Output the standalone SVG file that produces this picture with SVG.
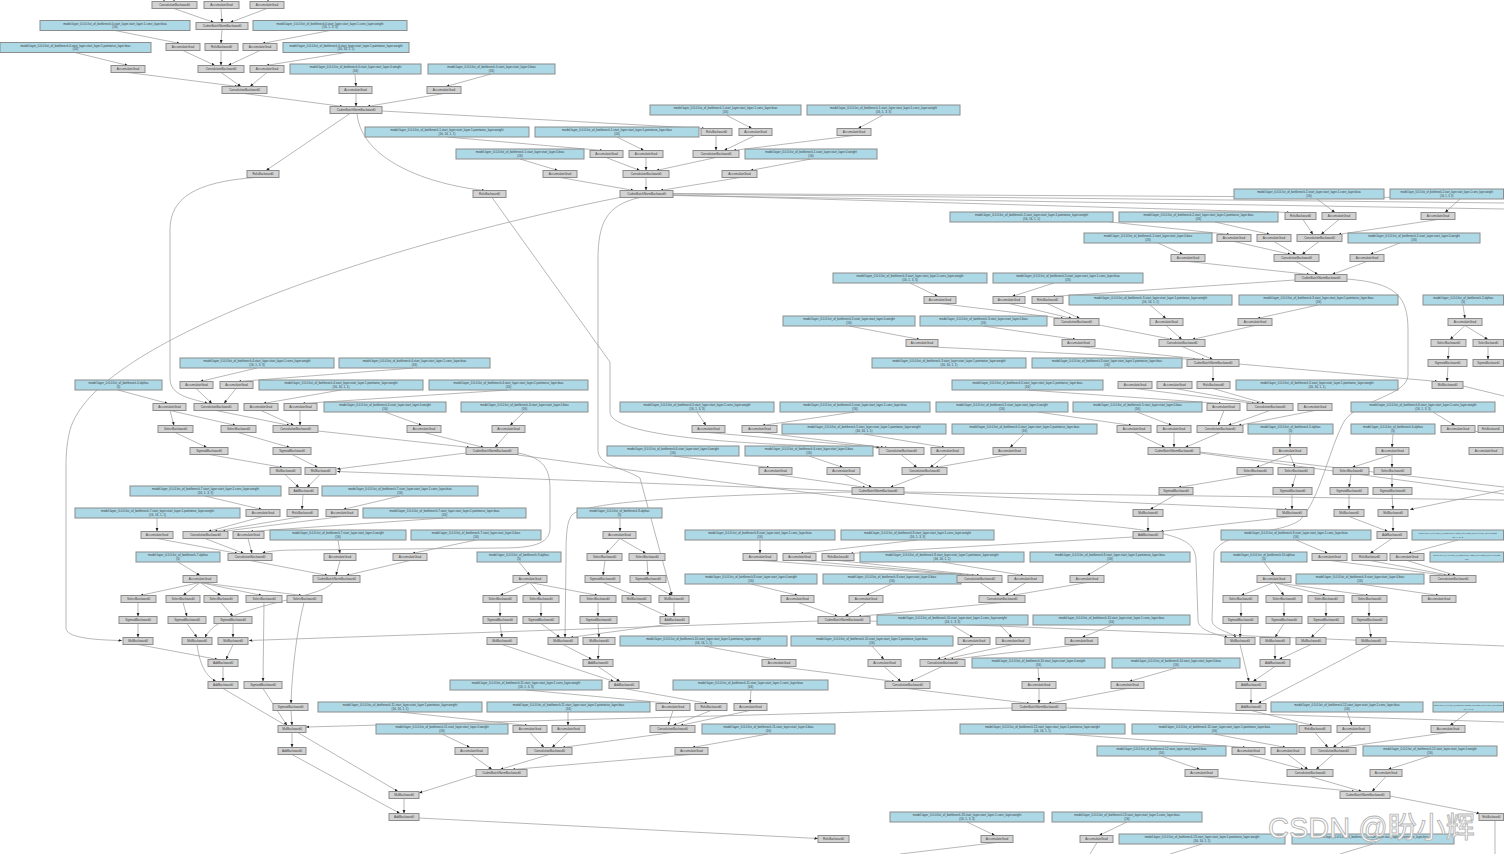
<svg xmlns="http://www.w3.org/2000/svg" width="1504" height="854" viewBox="0 0 1504 854">
<style>
.g{fill:#d3d3d3;stroke:#8c8c8c;stroke-width:1}
.b{fill:#add8e6;stroke:#8c8c8c;stroke-width:1}
text{font-family:"Liberation Sans",Arial,sans-serif;font-size:3px;fill:#3a3a3a;text-anchor:middle}
.s1{font-size:2.6px}.s2{font-size:2.2px}.s3{font-size:1.9px}
.e path{fill:none;stroke:#9a9a9a;stroke-width:0.7}
.wm{font-family:"Liberation Sans","Noto Sans CJK SC",sans-serif;font-size:29px;fill:#ffffff;stroke:#b5b5b5;stroke-width:0.9;text-anchor:start}
</style>
<defs>
<marker id="a" viewBox="0 0 10 10" refX="10" refY="5" markerWidth="3.5" markerHeight="3.5" markerUnits="userSpaceOnUse" orient="auto"><path d="M0,1 L10,5 L0,9z" fill="#222"/></marker>
</defs>
<rect width="1504" height="854" fill="#ffffff"/>
<g id="connectors">
<g class="e" marker-end="url(#a)">
<path d="M164,0 L164,1.5"/><path d="M174,0 L174,1.5"/><path d="M222,0 L222,1.5"/><path d="M268,0 L268,1.5"/>
<path d="M174,8.5 L214,22.5"/><path d="M221,8.5 L222,22.5"/><path d="M267,8.5 L230,22.5"/>
<path d="M115,30.5 L180,43.5"/><path d="M222,29.5 L221,43.5"/><path d="M330,30.5 L262,43.5"/>
<path d="M75,52.5 L128,65.5"/><path d="M183,50.5 L215,65.5"/><path d="M221,50.5 L221,65.5"/><path d="M260,50.5 L228,65.5"/><path d="M346,52.5 L266,65.5"/>
<path d="M128,72.5 L238,86.5"/><path d="M221,72.5 L241,86.5"/><path d="M267,72.5 L250,86.5"/><path d="M355,74 L356,86.5"/><path d="M491,74 L446,86.5"/>
<path d="M244,93.5 L343,106.5"/><path d="M356,93.5 L356,106.5"/><path d="M444,93.5 L367,106.5"/>
<path d="M726,115 L752,128.5"/><path d="M883,115 L858,128.5"/>
<path d="M716,135.5 L716,150.5"/><path d="M755,135.5 L724,150.5"/><path d="M854,135.5 L733,150.5"/>
<path d="M617,137 L644,150.5"/><path d="M447,137 L603,150.5"/>
<path d="M606,157.5 L640,170.5"/><path d="M646,157.5 L646,170.5"/><path d="M716,157.5 L656,170.5"/><path d="M520,159 L558,170.5"/><path d="M811,159 L750,170.5"/>
<path d="M560,177.5 L634,190.5"/><path d="M646,177.5 L646,190.5"/><path d="M740,177.5 L660,190.5"/>
<path d="M382,111 L705,128.5"/><path d="M350,113.5 L266,170.5"/><path d="M357,113.5 C362,165 440,186 485,190.5"/>
<path d="M255,177.5 C195,182 170,198 170,230 L170,378 C170,396 190,398 208,403.5"/>
<path d="M492,197.5 L610,362 L610,412 C610,440 780,446 888,447.5"/>
<path d="M640,197.5 C605,205 598,225 598,260 L598,450 C598,466 625,468 640,478 L672,595.5"/>
<path d="M622,197 C380,245 95,340 70,430 C66,445 66,460 66,470 L66,628 C66,637 90,640 122,640.5"/>
<path d="M673,195 L1290,212.5"/>
<path d="M1317,199 L1335,212.5"/><path d="M1460,199 L1445,212.5"/>
<path d="M1303,219.5 L1313,234.5"/><path d="M1339,219.5 L1321,234.5"/><path d="M1438,219.5 L1338,234.5"/>
<path d="M1110,222 L1230,234.5"/><path d="M1215,222 L1270,234.5"/>
<path d="M1234,241.5 L1291,254.5"/><path d="M1274,241.5 L1296,254.5"/><path d="M1319,241.5 L1302,254.5"/>
<path d="M1158,243 L1183,254.5"/><path d="M1400,243 L1370,254.5"/>
<path d="M1188,261.5 L1310,274.5"/><path d="M1296,261.5 L1318,274.5"/><path d="M1367,261.5 L1332,274.5"/>
<path d="M1295,280 L1052,296.5"/>
<path d="M1347,279 C1395,283 1408,295 1408,330 L1408,375 C1408,395 1360,400 1345,420 C1330,445 1320,500 1300,520 C1280,535 1225,530 1214,552 L1212,620 C1212,630 1232,632 1236,637.5"/>
<path d="M910,283 L938,296.5"/><path d="M1054,283 L1012,296.5"/>
<path d="M940,303.5 L1064,318.5"/><path d="M1009,303.5 L1072,318.5"/><path d="M1047,303.5 L1080,318.5"/>
<path d="M1150,305 L1166,318.5"/><path d="M1318,305 L1257,318.5"/>
<path d="M1099,325 L1173,339.5"/><path d="M1166,325.5 L1182,339.5"/><path d="M1255,325.5 L1192,339.5"/>
<path d="M849,326 L920,339.5"/><path d="M983,326 L1076,339.5"/>
<path d="M922,346.5 L1196,359.5"/><path d="M1078,346.5 L1205,359.5"/><path d="M1182,346.5 L1213,359.5"/>
<path d="M1213,366.5 L1213,381.5"/><path d="M1239,364 L1438,381.5"/>
<path d="M1463,305 L1465,318.5"/><path d="M1465,325.5 L1450,339.5"/><path d="M1465,325.5 L1488,339.5"/>
<path d="M1449,346.5 L1448,359.5"/><path d="M1488,346.5 L1488,359.5"/><path d="M1448,366.5 L1447,381.5"/>
<path d="M257,368 L200,381.5"/><path d="M414,368 L238,381.5"/>
<path d="M118,390 L168,403.5"/><path d="M196,388.5 L212,403.5"/><path d="M236,388.5 L224,403.5"/>
<path d="M341,390 L263,403.5"/><path d="M508,390 L302,403.5"/>
<path d="M170,410.5 L174,425.5"/><path d="M170,410.5 L236,425.5"/><path d="M216,410.5 L290,425.5"/><path d="M261,410.5 L294,425.5"/><path d="M300,410.5 L300,425.5"/>
<path d="M385,412 L422,425.5"/><path d="M524,412 L510,425.5"/>
<path d="M175,432.5 L207,447.5"/><path d="M238,432.5 L290,447.5"/><path d="M318,431 L470,447.5"/><path d="M424,432.5 L484,447.5"/><path d="M508,432.5 L495,447.5"/>
<path d="M209,454.5 L283,467.5"/><path d="M292,454.5 L318,467.5"/>
<path d="M466,453 L337,469"/>
<path d="M518,453 C545,458 550,470 550,490 L550,528 C550,545 530,548 500,548 L300,550 C280,550 268,551 262,553.5"/>
<path d="M518,455 C700,480 900,505 1100,525 C1180,533 1195,540 1196,560 L1198,620 C1198,630 1215,634 1228,637.5"/>
<path d="M285,474.5 L299,487.5"/><path d="M320,474.5 L307,487.5"/>
<path d="M205,496 L262,509.5"/><path d="M303,494.5 L302,509.5"/><path d="M400,496 L343,509.5"/>
<path d="M157,518 L157,531.5"/><path d="M263,516.5 L208,531.5"/><path d="M302,516.5 L214,531.5"/><path d="M342,516.5 L222,531.5"/><path d="M444,518 L250,531.5"/>
<path d="M205,538.5 L244,553.5"/><path d="M157,538.5 L238,553.5"/><path d="M248,538.5 L252,553.5"/><path d="M338,540 L340,553.5"/><path d="M476,540 L412,553.5"/>
<path d="M250,560.5 L328,575.5"/><path d="M340,560.5 L336,575.5"/><path d="M410,560.5 L346,575.5"/><path d="M178,562 L200,575.5"/>
<path d="M200,582.5 L140,595.5"/><path d="M200,582.5 L183,595.5"/><path d="M200,582.5 L221,595.5"/><path d="M200,582.5 L262,595.5"/><path d="M200,582.5 L302,595.5"/>
<path d="M138,602.5 L138,616.5"/><path d="M183,602.5 L187,616.5"/><path d="M221,602.5 L233,616.5"/>
<path d="M138,623.5 L138,637.5"/><path d="M187,623.5 L197,637.5"/><path d="M233,623.5 L233,637.5"/>
<path d="M333,582.5 C320,600 220,605 205,637.5"/>
<path d="M138,644.5 L218,659.5"/><path d="M233,644.5 L226,659.5"/><path d="M197,644.5 C200,665 205,675 216,681.5"/><path d="M223,666.5 L223,681.5"/>
<path d="M264,602.5 L263,681.5"/><path d="M304,602.5 C297,630 292,670 291,703.5"/>
<path d="M818,621 L249,640.5"/>
<path d="M263,688.5 L287,725.5"/><path d="M291,710.5 L292,725.5"/><path d="M292,732.5 L292,747.5"/>
<path d="M223,688.5 L398,791.5"/><path d="M292,754.5 L400,813.5"/><path d="M404,798.5 L404,813.5"/>
<path d="M476,775 L419,793"/><path d="M419,818 L818,838.5"/><path d="M1012,708 L306,727"/>
<path d="M400,712 L528,725.5"/><path d="M568,712 L568,725.5"/>
<path d="M530,732.5 L544,747.5"/><path d="M568,732.5 L552,747.5"/><path d="M672,732.5 L562,747.5"/>
<path d="M442,734 L470,747.5"/><path d="M768,734 L692,747.5"/>
<path d="M549,754.5 L500,769.5"/><path d="M471,754.5 L492,769.5"/><path d="M691,754.5 L512,769.5"/>
<path d="M673,710.5 L668,725.5"/><path d="M711,710.5 L673,725.5"/><path d="M750,710.5 L680,725.5"/>
<path d="M526,690 L672,703.5"/><path d="M751,690 L750,703.5"/><path d="M624,688.5 L708,703.5"/>
<path d="M620,518 L620,531.5"/><path d="M620,538.5 L606,553.5"/><path d="M620,538.5 L646,553.5"/>
<path d="M605,560.5 L603,575.5"/><path d="M647,560.5 L648,575.5"/>
<path d="M603,582.5 L635,595.5"/><path d="M648,582.5 L672,595.5"/>
<path d="M637,602.5 L668,616.5"/><path d="M674,602.5 L674,616.5"/>
<path d="M519,562 L530,575.5"/><path d="M530,582.5 L500,595.5"/><path d="M530,582.5 L541,595.5"/><path d="M530,582.5 L598,595.5"/>
<path d="M500,602.5 L500,616.5"/><path d="M541,602.5 L541,616.5"/><path d="M598,602.5 L598,616.5"/>
<path d="M500,623.5 L502,637.5"/><path d="M541,623.5 L560,637.5"/><path d="M598,623.5 L599,637.5"/><path d="M674,623.5 L570,637.5"/>
<path d="M563,644.5 L592,659.5"/><path d="M599,644.5 L598,659.5"/><path d="M598,666.5 L620,681.5"/><path d="M502,644.5 L614,681.5"/>
<path d="M852,492 C720,495 585,500 572,515 C566,522 566,540 566,560 L565,637.5"/>
<path d="M697,412 L706,425.5"/><path d="M855,412 L762,425.5"/>
<path d="M864,434 L945,447.5"/><path d="M1024,434 L1010,447.5"/>
<path d="M708,432.5 L880,447.5"/><path d="M760,432.5 L884,447.5"/>
<path d="M947,454.5 L930,467.5"/><path d="M901,454.5 L917,467.5"/><path d="M1010,454.5 L935,467.5"/>
<path d="M673,456 L770,467.5"/><path d="M809,456 L843,467.5"/>
<path d="M776,474.5 L866,487.5"/><path d="M844,474.5 L872,487.5"/><path d="M924,474.5 L890,487.5"/>
<path d="M852,491 L337,471.5"/><path d="M904,493 L1288,509.5"/>
<path d="M760,540 L760,553.5"/><path d="M917,540 L800,553.5"/>
<path d="M760,560.5 L970,575.5"/><path d="M800,560.5 L975,575.5"/><path d="M838,560.5 L980,575.5"/>
<path d="M942,562 L1024,575.5"/><path d="M1110,562 L1087,575.5"/>
<path d="M751,584 L798,595.5"/><path d="M892,584 L866,595.5"/>
<path d="M980,582.5 L1000,595.5"/><path d="M1026,582.5 L1005,595.5"/><path d="M1087,582.5 L1012,595.5"/>
<path d="M798,602.5 L838,616.5"/><path d="M866,602.5 L845,616.5"/><path d="M1002,602.5 L858,616.5"/>
<path d="M1133,537 L850,553.5"/>
<path d="M1135,388.5 L1255,403.5"/><path d="M1175,388.5 L1260,403.5"/><path d="M1213,388.5 L1265,403.5"/>
<path d="M1027,390 L1222,403.5"/><path d="M1038,412 L1132,425.5"/><path d="M1137,412 L1172,425.5"/>
<path d="M1270,410.5 L1228,425.5"/><path d="M1224,410.5 L1218,425.5"/><path d="M1315,410.5 L1238,425.5"/>
<path d="M1134,432.5 L1165,447.5"/><path d="M1174,432.5 L1174,447.5"/><path d="M1220,432.5 L1185,447.5"/>
<path d="M1290,434 L1290,447.5"/><path d="M1393,434 L1392,447.5"/><path d="M1433,412 L1455,425.5"/>
<path d="M1290,454.5 L1256,467.5"/><path d="M1290,454.5 L1295,467.5"/><path d="M1392,454.5 L1352,467.5"/><path d="M1392,454.5 L1392,467.5"/>
<path d="M1255,474.5 L1178,487.5"/><path d="M1296,474.5 L1292,487.5"/><path d="M1351,474.5 L1349,487.5"/><path d="M1392,474.5 L1392,487.5"/>
<path d="M1176,494.5 L1150,509.5"/><path d="M1292,494.5 L1292,509.5"/><path d="M1349,494.5 L1349,509.5"/><path d="M1392,494.5 L1393,509.5"/>
<path d="M1148,516.5 L1148,531.5"/><path d="M1292,516.5 L1160,531.5"/><path d="M1349,516.5 L1388,531.5"/><path d="M1393,516.5 L1393,531.5"/>
<path d="M1504,490 L1410,509.5"/>
<path d="M1392,538.5 L1370,553.5"/><path d="M1296,540 L1328,553.5"/><path d="M1458,540 L1408,553.5"/>
<path d="M1330,560.5 L1447,575.5"/><path d="M1370,560.5 L1451,575.5"/><path d="M1407,560.5 L1456,575.5"/>
<path d="M1360,584 L1439,595.5"/><path d="M1264,562 L1274,575.5"/>
<path d="M1274,582.5 L1241,595.5"/><path d="M1274,582.5 L1284,595.5"/><path d="M1274,582.5 L1326,595.5"/><path d="M1274,582.5 L1369,595.5"/>
<path d="M1241,602.5 L1241,616.5"/><path d="M1284,602.5 L1284,616.5"/><path d="M1326,602.5 L1326,616.5"/><path d="M1369,602.5 L1369,616.5"/>
<path d="M1241,623.5 L1240,637.5"/><path d="M1284,623.5 L1275,637.5"/><path d="M1326,623.5 L1311,637.5"/><path d="M1369,623.5 L1371,637.5"/>
<path d="M1240,644.5 L1249,681.5"/><path d="M1275,644.5 L1275,659.5"/><path d="M1311,644.5 L1279,659.5"/><path d="M1275,666.5 L1253,681.5"/>
<path d="M1251,688.5 L1251,703.5"/><path d="M1371,644.5 L1258,703.5"/>
<path d="M1251,710.5 L1313,725.5"/><path d="M1347,712 L1352,725.5"/><path d="M1468,712 L1450,725.5"/>
<path d="M1315,732.5 L1328,747.5"/><path d="M1353,732.5 L1333,747.5"/><path d="M1448,732.5 L1340,747.5"/>
<path d="M1065,734 L1246,747.5"/><path d="M1214,734 L1286,747.5"/>
<path d="M1161,756 L1200,769.5"/><path d="M1430,756 L1388,769.5"/>
<path d="M1248,754.5 L1304,769.5"/><path d="M1288,754.5 L1308,769.5"/><path d="M1333,754.5 L1316,769.5"/>
<path d="M1201,776.5 L1355,791.5"/><path d="M1310,776.5 L1362,791.5"/><path d="M1386,776.5 L1372,791.5"/>
<path d="M1390,796 L1480,813.5"/>
<path d="M779,666.5 L895,681.5"/><path d="M884,666.5 L901,681.5"/><path d="M942,666.5 L910,681.5"/>
<path d="M974,644.5 L937,659.5"/><path d="M1013,644.5 L943,659.5"/><path d="M1081,644.5 L950,659.5"/>
<path d="M704,646 L777,659.5"/><path d="M872,646 L884,659.5"/>
<path d="M952,625 L973,637.5"/><path d="M1000,625 L1012,637.5"/><path d="M1112,625 L1082,637.5"/>
<path d="M1038,668 L1039,681.5"/><path d="M1176,668 L1129,681.5"/>
<path d="M907,688.5 L1030,703.5"/><path d="M1039,688.5 L1039,703.5"/><path d="M1127,688.5 L1048,703.5"/>
<path d="M967,822 L995,835.5"/><path d="M1127,822 L1099,835.5"/>
</g>
<g class="e">
<path d="M673,194 L1504,203"/><path d="M673,195.5 L1504,209"/><path d="M673,193.5 L1504,198"/>
<path d="M904,492 L1504,500"/>
<path d="M1200,452 L1504,487"/><path d="M1200,453 L1504,494"/>
<path d="M870,621 L1504,646"/><path d="M1066,708 L1504,722"/>
<path d="M1463,386 L1504,396"/><path d="M1475,431 L1478,432"/>
<path d="M1495,820.5 L1495,854"/>
<path d="M997,842.5 L900,854"/><path d="M1097,842.5 L1090,854"/><path d="M1202,844 L1170,854"/><path d="M1373,844 L1340,854"/>
</g>
</g>
<g id="n1"><rect class="g" x="152" y="1.5" width="45" height="7"/><text x="174.5" y="6.2">ConvolutionBackward0</text></g>
<g id="n2"><rect class="g" x="204" y="1.5" width="35" height="7"/><text x="221.5" y="6.2">AccumulateGrad</text></g>
<g id="n3"><rect class="g" x="250" y="1.5" width="34" height="7"/><text x="267" y="6.2">AccumulateGrad</text></g>
<g id="p1"><rect class="b" x="40" y="20.5" width="150" height="10"/><text x="115" y="24.6">model.layer_0.0.0.list_of_bottleneck.0.start_layer.start_layer.1.conv_layer.bias<tspan x="115" dy="3.6">(16)</tspan></text></g>
<g id="n4"><rect class="g" x="196" y="22.5" width="52" height="7"/><text x="222" y="27.2">CudnnBatchNormBackward0</text></g>
<g id="p2"><rect class="b" x="253" y="20.5" width="154" height="10"/><text x="330" y="24.6">model.layer_0.0.0.list_of_bottleneck.0.start_layer.start_layer.1.conv_layer.weight<tspan x="330" dy="3.6">(16, 1, 3, 3)</tspan></text></g>
<g id="p3"><rect class="b" x="0" y="42.5" width="151" height="10"/><text x="75.5" y="46.6">model.layer_0.0.0.list_of_bottleneck.0.start_layer.start_layer.1.pointwise_layer.bias<tspan x="75.5" dy="3.6">(16)</tspan></text></g>
<g id="n5"><rect class="g" x="166" y="43.5" width="34" height="7"/><text x="183" y="48.2">AccumulateGrad</text></g>
<g id="n6"><rect class="g" x="205" y="43.5" width="33" height="7"/><text x="221.5" y="48.2">ReluBackward0</text></g>
<g id="n7"><rect class="g" x="243" y="43.5" width="34" height="7"/><text x="260" y="48.2">AccumulateGrad</text></g>
<g id="p4"><rect class="b" x="283" y="42.5" width="126" height="10"/><text x="346" y="46.6">model.layer_0.0.0.list_of_bottleneck.0.start_layer.start_layer.1.pointwise_layer.weight<tspan x="346" dy="3.6">(16, 16, 1, 1)</tspan></text></g>
<g id="n8"><rect class="g" x="111" y="65.5" width="34" height="7"/><text x="128" y="70.2">AccumulateGrad</text></g>
<g id="n9"><rect class="g" x="198" y="65.5" width="46" height="7"/><text x="221" y="70.2">ConvolutionBackward0</text></g>
<g id="n10"><rect class="g" x="250" y="65.5" width="34" height="7"/><text x="267" y="70.2">AccumulateGrad</text></g>
<g id="p5"><rect class="b" x="290" y="64" width="131" height="10"/><text x="355.5" y="68.1">model.layer_0.0.0.list_of_bottleneck.0.start_layer.start_layer.0.weight<tspan x="355.5" dy="3.6">(16)</tspan></text></g>
<g id="p6"><rect class="b" x="428" y="64" width="127" height="10"/><text x="491.5" y="68.1">model.layer_0.0.0.list_of_bottleneck.0.start_layer.start_layer.0.bias<tspan x="491.5" dy="3.6">(16)</tspan></text></g>
<g id="n11"><rect class="g" x="222" y="86.5" width="45" height="7"/><text x="244.5" y="91.2">ConvolutionBackward0</text></g>
<g id="n12"><rect class="g" x="339" y="86.5" width="33" height="7"/><text x="355.5" y="91.2">AccumulateGrad</text></g>
<g id="n13"><rect class="g" x="427" y="86.5" width="34" height="7"/><text x="444" y="91.2">AccumulateGrad</text></g>
<g id="n14"><rect class="g" x="330" y="106.5" width="52" height="7"/><text x="356" y="111.2">CudnnBatchNormBackward0</text></g>
<g id="p7"><rect class="b" x="650" y="105" width="151" height="10"/><text x="725.5" y="109.1">model.layer_0.0.0.list_of_bottleneck.1.start_layer.start_layer.1.conv_layer.bias<tspan x="725.5" dy="3.6">(16)</tspan></text></g>
<g id="p8"><rect class="b" x="807" y="105" width="153" height="10"/><text x="883.5" y="109.1">model.layer_0.0.0.list_of_bottleneck.1.start_layer.start_layer.1.conv_layer.weight<tspan x="883.5" dy="3.6">(16, 1, 3, 3)</tspan></text></g>
<g id="p9"><rect class="b" x="365" y="127" width="164" height="10"/><text x="447" y="131.1">model.layer_0.0.0.list_of_bottleneck.1.start_layer.start_layer.1.pointwise_layer.weight<tspan x="447" dy="3.6">(16, 16, 1, 1)</tspan></text></g>
<g id="p10"><rect class="b" x="535" y="127" width="164" height="10"/><text x="617" y="131.1">model.layer_0.0.0.list_of_bottleneck.1.start_layer.start_layer.1.pointwise_layer.bias<tspan x="617" dy="3.6">(16)</tspan></text></g>
<g id="n15"><rect class="g" x="701" y="128.5" width="31" height="7"/><text x="716.5" y="133.2">ReluBackward0</text></g>
<g id="n16"><rect class="g" x="739" y="128.5" width="33" height="7"/><text x="755.5" y="133.2">AccumulateGrad</text></g>
<g id="n17"><rect class="g" x="837" y="128.5" width="34" height="7"/><text x="854" y="133.2">AccumulateGrad</text></g>
<g id="p11"><rect class="b" x="456" y="149" width="128" height="10"/><text x="520" y="153.1">model.layer_0.0.0.list_of_bottleneck.1.start_layer.start_layer.0.bias<tspan x="520" dy="3.6">(16)</tspan></text></g>
<g id="n18"><rect class="g" x="590" y="150.5" width="33" height="7"/><text x="606.5" y="155.2">AccumulateGrad</text></g>
<g id="n19"><rect class="g" x="629" y="150.5" width="34" height="7"/><text x="646" y="155.2">AccumulateGrad</text></g>
<g id="n20"><rect class="g" x="693" y="150.5" width="46" height="7"/><text x="716" y="155.2">ConvolutionBackward0</text></g>
<g id="p12"><rect class="b" x="745" y="149" width="132" height="10"/><text x="811" y="153.1">model.layer_0.0.0.list_of_bottleneck.1.start_layer.start_layer.0.weight<tspan x="811" dy="3.6">(16)</tspan></text></g>
<g id="n21"><rect class="g" x="247" y="170.5" width="32" height="7"/><text x="263" y="175.2">ReluBackward0</text></g>
<g id="n22"><rect class="g" x="543" y="170.5" width="34" height="7"/><text x="560" y="175.2">AccumulateGrad</text></g>
<g id="n23"><rect class="g" x="623" y="170.5" width="46" height="7"/><text x="646" y="175.2">ConvolutionBackward0</text></g>
<g id="n24"><rect class="g" x="722" y="170.5" width="35" height="7"/><text x="739.5" y="175.2">AccumulateGrad</text></g>
<g id="n25"><rect class="g" x="473" y="190.5" width="33" height="7"/><text x="489.5" y="195.2">ReluBackward0</text></g>
<g id="n26"><rect class="g" x="620" y="190.5" width="53" height="7"/><text x="646.5" y="195.2">CudnnBatchNormBackward0</text></g>
<g id="p13"><rect class="b" x="1234" y="189" width="150" height="10"/><text x="1309" y="193.1">model.layer_0.0.0.list_of_bottleneck.2.start_layer.start_layer.1.conv_layer.bias<tspan x="1309" dy="3.6">(16)</tspan></text></g>
<g id="p14"><rect class="b" x="1390" y="189" width="113.5" height="10"/><text class="s1" x="1446.75" y="193.1">model.layer_0.0.0.list_of_bottleneck.2.start_layer.start_layer.1.conv_layer.weight<tspan x="1446.75" dy="3.6">(16, 1, 3, 3)</tspan></text></g>
<g id="p15"><rect class="b" x="950" y="212" width="163" height="10"/><text x="1031.5" y="216.1">model.layer_0.0.0.list_of_bottleneck.2.start_layer.start_layer.1.pointwise_layer.weight<tspan x="1031.5" dy="3.6">(16, 16, 1, 1)</tspan></text></g>
<g id="p16"><rect class="b" x="1119" y="212" width="159" height="10"/><text x="1198.5" y="216.1">model.layer_0.0.0.list_of_bottleneck.2.start_layer.start_layer.1.pointwise_layer.bias<tspan x="1198.5" dy="3.6">(16)</tspan></text></g>
<g id="n27"><rect class="g" x="1285" y="212.5" width="31" height="7"/><text x="1300.5" y="217.2">ReluBackward0</text></g>
<g id="n28"><rect class="g" x="1322" y="212.5" width="34" height="7"/><text x="1339" y="217.2">AccumulateGrad</text></g>
<g id="n29"><rect class="g" x="1421" y="212.5" width="34" height="7"/><text x="1438" y="217.2">AccumulateGrad</text></g>
<g id="p17"><rect class="b" x="1084" y="233" width="128" height="10"/><text x="1148" y="237.1">model.layer_0.0.0.list_of_bottleneck.2.start_layer.start_layer.0.bias<tspan x="1148" dy="3.6">(16)</tspan></text></g>
<g id="n30"><rect class="g" x="1217" y="234.5" width="34" height="7"/><text x="1234" y="239.2">AccumulateGrad</text></g>
<g id="n31"><rect class="g" x="1257" y="234.5" width="34" height="7"/><text x="1274" y="239.2">AccumulateGrad</text></g>
<g id="n32"><rect class="g" x="1297" y="234.5" width="45" height="7"/><text x="1319.5" y="239.2">ConvolutionBackward0</text></g>
<g id="p18"><rect class="b" x="1348" y="233" width="132" height="10"/><text x="1414" y="237.1">model.layer_0.0.0.list_of_bottleneck.2.start_layer.start_layer.0.weight<tspan x="1414" dy="3.6">(16)</tspan></text></g>
<g id="n33"><rect class="g" x="1171" y="254.5" width="34" height="7"/><text x="1188" y="259.2">AccumulateGrad</text></g>
<g id="n34"><rect class="g" x="1274" y="254.5" width="45" height="7"/><text x="1296.5" y="259.2">ConvolutionBackward0</text></g>
<g id="n35"><rect class="g" x="1350" y="254.5" width="34" height="7"/><text x="1367" y="259.2">AccumulateGrad</text></g>
<g id="p19"><rect class="b" x="833" y="273" width="154" height="10"/><text x="910" y="277.1">model.layer_0.0.0.list_of_bottleneck.3.start_layer.start_layer.1.conv_layer.weight<tspan x="910" dy="3.6">(16, 1, 3, 3)</tspan></text></g>
<g id="p20"><rect class="b" x="993" y="273" width="150" height="10"/><text x="1068" y="277.1">model.layer_0.0.0.list_of_bottleneck.3.start_layer.start_layer.1.conv_layer.bias<tspan x="1068" dy="3.6">(16)</tspan></text></g>
<g id="n36"><rect class="g" x="1295" y="274.5" width="52" height="7"/><text x="1321" y="279.2">CudnnBatchNormBackward0</text></g>
<g id="n37"><rect class="g" x="924" y="296.5" width="32" height="7"/><text x="940" y="301.2">AccumulateGrad</text></g>
<g id="n38"><rect class="g" x="993" y="296.5" width="32" height="7"/><text x="1009" y="301.2">AccumulateGrad</text></g>
<g id="n39"><rect class="g" x="1032" y="296.5" width="31" height="7"/><text x="1047.5" y="301.2">ReluBackward0</text></g>
<g id="p21"><rect class="b" x="1069" y="295" width="163" height="10"/><text x="1150.5" y="299.1">model.layer_0.0.0.list_of_bottleneck.3.start_layer.start_layer.1.pointwise_layer.weight<tspan x="1150.5" dy="3.6">(16, 16, 1, 1)</tspan></text></g>
<g id="p22"><rect class="b" x="1239" y="295" width="159" height="10"/><text x="1318.5" y="299.1">model.layer_0.0.0.list_of_bottleneck.3.start_layer.start_layer.1.pointwise_layer.bias<tspan x="1318.5" dy="3.6">(16)</tspan></text></g>
<g id="p23"><rect class="b" x="1423" y="295" width="80.5" height="10"/><text x="1463.25" y="299.1">model.layer_0.0.0.list_of_bottleneck.2.alphas<tspan x="1463.25" dy="3.6">(5)</tspan></text></g>
<g id="p24"><rect class="b" x="783" y="316" width="132" height="10"/><text x="849" y="320.1">model.layer_0.0.0.list_of_bottleneck.3.start_layer.start_layer.0.weight<tspan x="849" dy="3.6">(16)</tspan></text></g>
<g id="p25"><rect class="b" x="920" y="316" width="127" height="10"/><text x="983.5" y="320.1">model.layer_0.0.0.list_of_bottleneck.3.start_layer.start_layer.0.bias<tspan x="983.5" dy="3.6">(16)</tspan></text></g>
<g id="n40"><rect class="g" x="1054" y="318.5" width="45" height="7"/><text x="1076.5" y="323.2">ConvolutionBackward0</text></g>
<g id="n41"><rect class="g" x="1150" y="318.5" width="33" height="7"/><text x="1166.5" y="323.2">AccumulateGrad</text></g>
<g id="n42"><rect class="g" x="1238" y="318.5" width="34" height="7"/><text x="1255" y="323.2">AccumulateGrad</text></g>
<g id="n43"><rect class="g" x="1448" y="318.5" width="34" height="7"/><text x="1465" y="323.2">AccumulateGrad</text></g>
<g id="n44"><rect class="g" x="906" y="339.5" width="32" height="7"/><text x="922" y="344.2">AccumulateGrad</text></g>
<g id="n45"><rect class="g" x="1062" y="339.5" width="33" height="7"/><text x="1078.5" y="344.2">AccumulateGrad</text></g>
<g id="n46"><rect class="g" x="1159" y="339.5" width="46" height="7"/><text x="1182" y="344.2">ConvolutionBackward0</text></g>
<g id="n47"><rect class="g" x="1431" y="339.5" width="35" height="7"/><text x="1448.5" y="344.2">SelectBackward0</text></g>
<g id="n48"><rect class="g" x="1473" y="339.5" width="30.5" height="7"/><text class="s1" x="1488.25" y="344.2">SelectBackward0</text></g>
<g id="p26"><rect class="b" x="180" y="358" width="154" height="10"/><text x="257" y="362.1">model.layer_0.0.0.list_of_bottleneck.4.start_layer.start_layer.1.conv_layer.weight<tspan x="257" dy="3.6">(16, 1, 3, 3)</tspan></text></g>
<g id="p27"><rect class="b" x="339" y="358" width="151" height="10"/><text x="414.5" y="362.1">model.layer_0.0.0.list_of_bottleneck.4.start_layer.start_layer.1.conv_layer.bias<tspan x="414.5" dy="3.6">(16)</tspan></text></g>
<g id="p28"><rect class="b" x="872" y="358" width="154" height="10"/><text x="949" y="362.1">model.layer_0.0.0.list_of_bottleneck.3.start_layer.start_layer.1.pointwise_layer.weight<tspan x="949" dy="3.6">(16, 16, 1, 1)</tspan></text></g>
<g id="p29"><rect class="b" x="1032" y="358" width="150" height="10"/><text x="1107" y="362.1">model.layer_0.0.0.list_of_bottleneck.3.start_layer.start_layer.1.pointwise_layer.bias<tspan x="1107" dy="3.6">(16)</tspan></text></g>
<g id="n49"><rect class="g" x="1187" y="359.5" width="52" height="7"/><text x="1213" y="364.2">CudnnBatchNormBackward0</text></g>
<g id="n50"><rect class="g" x="1428" y="359.5" width="39" height="7"/><text x="1447.5" y="364.2">SigmoidBackward0</text></g>
<g id="n51"><rect class="g" x="1473" y="359.5" width="30.5" height="7"/><text class="s1" x="1488.25" y="364.2">SigmoidBackward0</text></g>
<g id="p30"><rect class="b" x="75" y="380" width="87" height="10"/><text x="118.5" y="384.1">model.layer_0.0.0.list_of_bottleneck.0.alphas<tspan x="118.5" dy="3.6">(5)</tspan></text></g>
<g id="n52"><rect class="g" x="180" y="381.5" width="33" height="7"/><text x="196.5" y="386.2">AccumulateGrad</text></g>
<g id="n53"><rect class="g" x="220" y="381.5" width="33" height="7"/><text x="236.5" y="386.2">AccumulateGrad</text></g>
<g id="p31"><rect class="b" x="259" y="380" width="164" height="10"/><text x="341" y="384.1">model.layer_0.0.0.list_of_bottleneck.4.start_layer.start_layer.1.pointwise_layer.weight<tspan x="341" dy="3.6">(16, 16, 1, 1)</tspan></text></g>
<g id="p32"><rect class="b" x="429" y="380" width="159" height="10"/><text x="508.5" y="384.1">model.layer_0.0.0.list_of_bottleneck.4.start_layer.start_layer.1.pointwise_layer.bias<tspan x="508.5" dy="3.6">(16)</tspan></text></g>
<g id="p33"><rect class="b" x="952" y="380" width="151" height="10"/><text x="1027.5" y="384.1">model.layer_0.0.0.list_of_bottleneck.5.start_layer.start_layer.1.pointwise_layer.bias<tspan x="1027.5" dy="3.6">(16)</tspan></text></g>
<g id="n54"><rect class="g" x="1118" y="381.5" width="34" height="7"/><text x="1135" y="386.2">AccumulateGrad</text></g>
<g id="n55"><rect class="g" x="1157" y="381.5" width="35" height="7"/><text x="1174.5" y="386.2">AccumulateGrad</text></g>
<g id="n56"><rect class="g" x="1197" y="381.5" width="33" height="7"/><text x="1213.5" y="386.2">ReluBackward0</text></g>
<g id="p34"><rect class="b" x="1236" y="380" width="162" height="10"/><text x="1317" y="384.1">model.layer_0.0.0.list_of_bottleneck.5.start_layer.start_layer.1.pointwise_layer.weight<tspan x="1317" dy="3.6">(16, 16, 1, 1)</tspan></text></g>
<g id="n57"><rect class="g" x="1432" y="381.5" width="31" height="7"/><text x="1447.5" y="386.2">MulBackward0</text></g>
<g id="n58"><rect class="g" x="153" y="403.5" width="33" height="7"/><text x="169.5" y="408.2">AccumulateGrad</text></g>
<g id="n59"><rect class="g" x="194" y="403.5" width="44" height="7"/><text x="216" y="408.2">ConvolutionBackward0</text></g>
<g id="n60"><rect class="g" x="244" y="403.5" width="34" height="7"/><text x="261" y="408.2">AccumulateGrad</text></g>
<g id="n61"><rect class="g" x="284" y="403.5" width="33" height="7"/><text x="300.5" y="408.2">AccumulateGrad</text></g>
<g id="p35"><rect class="b" x="324" y="402" width="122" height="10"/><text x="385" y="406.1">model.layer_0.0.0.list_of_bottleneck.4.start_layer.start_layer.0.weight<tspan x="385" dy="3.6">(16)</tspan></text></g>
<g id="p36"><rect class="b" x="461" y="402" width="127" height="10"/><text x="524.5" y="406.1">model.layer_0.0.0.list_of_bottleneck.4.start_layer.start_layer.0.bias<tspan x="524.5" dy="3.6">(16)</tspan></text></g>
<g id="p37"><rect class="b" x="620" y="402" width="154" height="10"/><text x="697" y="406.1">model.layer_0.0.0.list_of_bottleneck.5.start_layer.start_layer.1.conv_layer.weight<tspan x="697" dy="3.6">(16, 1, 3, 3)</tspan></text></g>
<g id="p38"><rect class="b" x="780" y="402" width="150" height="10"/><text x="855" y="406.1">model.layer_0.0.0.list_of_bottleneck.5.start_layer.start_layer.1.conv_layer.bias<tspan x="855" dy="3.6">(16)</tspan></text></g>
<g id="p39"><rect class="b" x="936" y="402" width="132" height="10"/><text x="1002" y="406.1">model.layer_0.0.0.list_of_bottleneck.5.start_layer.start_layer.0.weight<tspan x="1002" dy="3.6">(16)</tspan></text></g>
<g id="p40"><rect class="b" x="1073" y="402" width="129" height="10"/><text x="1137.5" y="406.1">model.layer_0.0.0.list_of_bottleneck.5.start_layer.start_layer.0.bias<tspan x="1137.5" dy="3.6">(16)</tspan></text></g>
<g id="n62"><rect class="g" x="1207" y="403.5" width="33" height="7"/><text x="1223.5" y="408.2">AccumulateGrad</text></g>
<g id="n63"><rect class="g" x="1247" y="403.5" width="46" height="7"/><text x="1270" y="408.2">ConvolutionBackward0</text></g>
<g id="n64"><rect class="g" x="1298" y="403.5" width="34" height="7"/><text x="1315" y="408.2">AccumulateGrad</text></g>
<g id="p41"><rect class="b" x="1351" y="402" width="144" height="10"/><text x="1423" y="406.1">model.layer_0.0.0.list_of_bottleneck.6.start_layer.start_layer.1.conv_layer.weight<tspan x="1423" dy="3.6">(16, 1, 3, 3)</tspan></text></g>
<g id="n65"><rect class="g" x="158" y="425.5" width="35" height="7"/><text x="175.5" y="430.2">SelectBackward0</text></g>
<g id="n66"><rect class="g" x="221" y="425.5" width="35" height="7"/><text x="238.5" y="430.2">SelectBackward0</text></g>
<g id="n67"><rect class="g" x="273" y="425.5" width="45" height="7"/><text x="295.5" y="430.2">ConvolutionBackward0</text></g>
<g id="n68"><rect class="g" x="407" y="425.5" width="34" height="7"/><text x="424" y="430.2">AccumulateGrad</text></g>
<g id="n69"><rect class="g" x="492" y="425.5" width="33" height="7"/><text x="508.5" y="430.2">AccumulateGrad</text></g>
<g id="n70"><rect class="g" x="692" y="425.5" width="33" height="7"/><text x="708.5" y="430.2">AccumulateGrad</text></g>
<g id="n71"><rect class="g" x="742" y="425.5" width="35" height="7"/><text x="759.5" y="430.2">AccumulateGrad</text></g>
<g id="p42"><rect class="b" x="782" y="424" width="164" height="10"/><text x="864" y="428.1">model.layer_0.0.0.list_of_bottleneck.5.start_layer.start_layer.1.pointwise_layer.weight<tspan x="864" dy="3.6">(16, 16, 1, 1)</tspan></text></g>
<g id="p43"><rect class="b" x="952" y="424" width="145" height="10"/><text x="1024.5" y="428.1">model.layer_0.0.0.list_of_bottleneck.5.start_layer.start_layer.1.pointwise_layer.bias<tspan x="1024.5" dy="3.6">(16)</tspan></text></g>
<g id="n72"><rect class="g" x="1117" y="425.5" width="34" height="7"/><text x="1134" y="430.2">AccumulateGrad</text></g>
<g id="n73"><rect class="g" x="1157" y="425.5" width="34" height="7"/><text x="1174" y="430.2">AccumulateGrad</text></g>
<g id="n74"><rect class="g" x="1197" y="425.5" width="46" height="7"/><text x="1220" y="430.2">ConvolutionBackward0</text></g>
<g id="p44"><rect class="b" x="1248" y="424" width="85" height="10"/><text x="1290.5" y="428.1">model.layer_0.0.0.list_of_bottleneck.5.alphas<tspan x="1290.5" dy="3.6">(5)</tspan></text></g>
<g id="p45"><rect class="b" x="1351" y="424" width="84" height="10"/><text x="1393" y="428.1">model.layer_0.0.0.list_of_bottleneck.6.alphas<tspan x="1393" dy="3.6">(5)</tspan></text></g>
<g id="n75"><rect class="g" x="1441" y="425.5" width="34" height="7"/><text x="1458" y="430.2">AccumulateGrad</text></g>
<g id="n76"><rect class="g" x="1478" y="425.5" width="25.5" height="7"/><text class="s1" x="1490.75" y="430.2">ReluBackward0</text></g>
<g id="n77"><rect class="g" x="190" y="447.5" width="38" height="7"/><text x="209" y="452.2">SigmoidBackward0</text></g>
<g id="n78"><rect class="g" x="273" y="447.5" width="38" height="7"/><text x="292" y="452.2">SigmoidBackward0</text></g>
<g id="n79"><rect class="g" x="466" y="447.5" width="52" height="7"/><text x="492" y="452.2">CudnnBatchNormBackward0</text></g>
<g id="p46"><rect class="b" x="607" y="446" width="132" height="10"/><text x="673" y="450.1">model.layer_0.0.0.list_of_bottleneck.6.start_layer.start_layer.0.weight<tspan x="673" dy="3.6">(16)</tspan></text></g>
<g id="p47"><rect class="b" x="745" y="446" width="128" height="10"/><text x="809" y="450.1">model.layer_0.0.0.list_of_bottleneck.6.start_layer.start_layer.0.bias<tspan x="809" dy="3.6">(16)</tspan></text></g>
<g id="n80"><rect class="g" x="879" y="447.5" width="45" height="7"/><text x="901.5" y="452.2">ConvolutionBackward0</text></g>
<g id="n81"><rect class="g" x="931" y="447.5" width="33" height="7"/><text x="947.5" y="452.2">AccumulateGrad</text></g>
<g id="n82"><rect class="g" x="993" y="447.5" width="33" height="7"/><text x="1009.5" y="452.2">AccumulateGrad</text></g>
<g id="n83"><rect class="g" x="1148" y="447.5" width="52" height="7"/><text x="1174" y="452.2">CudnnBatchNormBackward0</text></g>
<g id="n84"><rect class="g" x="1273" y="447.5" width="34" height="7"/><text x="1290" y="452.2">AccumulateGrad</text></g>
<g id="n85"><rect class="g" x="1376" y="447.5" width="33" height="7"/><text x="1392.5" y="452.2">AccumulateGrad</text></g>
<g id="n86"><rect class="g" x="1469" y="447.5" width="34" height="7"/><text x="1486" y="452.2">AccumulateGrad</text></g>
<g id="n87"><rect class="g" x="270" y="467.5" width="31" height="7"/><text x="285.5" y="472.2">MulBackward0</text></g>
<g id="n88"><rect class="g" x="305" y="467.5" width="31" height="7"/><text x="320.5" y="472.2">MulBackward0</text></g>
<g id="n89"><rect class="g" x="759" y="467.5" width="33" height="7"/><text x="775.5" y="472.2">AccumulateGrad</text></g>
<g id="n90"><rect class="g" x="827" y="467.5" width="33" height="7"/><text x="843.5" y="472.2">AccumulateGrad</text></g>
<g id="n91"><rect class="g" x="902" y="467.5" width="45" height="7"/><text x="924.5" y="472.2">ConvolutionBackward0</text></g>
<g id="n92"><rect class="g" x="1237" y="467.5" width="36" height="7"/><text x="1255" y="472.2">SelectBackward0</text></g>
<g id="n93"><rect class="g" x="1278" y="467.5" width="36" height="7"/><text x="1296" y="472.2">SelectBackward0</text></g>
<g id="n94"><rect class="g" x="1333" y="467.5" width="36" height="7"/><text x="1351" y="472.2">SelectBackward0</text></g>
<g id="n95"><rect class="g" x="1374" y="467.5" width="37" height="7"/><text x="1392.5" y="472.2">SelectBackward0</text></g>
<g id="p48"><rect class="b" x="130" y="486" width="151" height="10"/><text x="205.5" y="490.1">model.layer_0.0.0.list_of_bottleneck.7.start_layer.start_layer.1.conv_layer.weight<tspan x="205.5" dy="3.6">(16, 1, 3, 3)</tspan></text></g>
<g id="n96"><rect class="g" x="289" y="487.5" width="29" height="7"/><text x="303.5" y="492.2">AddBackward0</text></g>
<g id="p49"><rect class="b" x="322" y="486" width="156" height="10"/><text x="400" y="490.1">model.layer_0.0.0.list_of_bottleneck.7.start_layer.start_layer.1.conv_layer.bias<tspan x="400" dy="3.6">(16)</tspan></text></g>
<g id="n97"><rect class="g" x="852" y="487.5" width="52" height="7"/><text x="878" y="492.2">CudnnBatchNormBackward0</text></g>
<g id="n98"><rect class="g" x="1159" y="487.5" width="34" height="7"/><text x="1176" y="492.2">SigmoidBackward0</text></g>
<g id="n99"><rect class="g" x="1273" y="487.5" width="39" height="7"/><text x="1292.5" y="492.2">SigmoidBackward0</text></g>
<g id="n100"><rect class="g" x="1330" y="487.5" width="38" height="7"/><text x="1349" y="492.2">SigmoidBackward0</text></g>
<g id="n101"><rect class="g" x="1373" y="487.5" width="39" height="7"/><text x="1392.5" y="492.2">SigmoidBackward0</text></g>
<g id="p50"><rect class="b" x="75" y="508" width="165" height="10"/><text x="157.5" y="512.1">model.layer_0.0.0.list_of_bottleneck.7.start_layer.start_layer.1.pointwise_layer.weight<tspan x="157.5" dy="3.6">(16, 16, 1, 1)</tspan></text></g>
<g id="n102"><rect class="g" x="246" y="509.5" width="34" height="7"/><text x="263" y="514.2">AccumulateGrad</text></g>
<g id="n103"><rect class="g" x="287" y="509.5" width="31" height="7"/><text x="302.5" y="514.2">ReluBackward0</text></g>
<g id="n104"><rect class="g" x="326" y="509.5" width="32" height="7"/><text x="342" y="514.2">AccumulateGrad</text></g>
<g id="p51"><rect class="b" x="363" y="508" width="163" height="10"/><text x="444.5" y="512.1">model.layer_0.0.0.list_of_bottleneck.7.start_layer.start_layer.1.pointwise_layer.bias<tspan x="444.5" dy="3.6">(16)</tspan></text></g>
<g id="p52"><rect class="b" x="577" y="508" width="85" height="10"/><text x="619.5" y="512.1">model.layer_0.0.0.list_of_bottleneck.8.alphas<tspan x="619.5" dy="3.6">(5)</tspan></text></g>
<g id="n105"><rect class="g" x="1133" y="509.5" width="30" height="7"/><text x="1148" y="514.2">MulBackward0</text></g>
<g id="n106"><rect class="g" x="1277" y="509.5" width="30" height="7"/><text x="1292" y="514.2">MulBackward0</text></g>
<g id="n107"><rect class="g" x="1334" y="509.5" width="30" height="7"/><text x="1349" y="514.2">MulBackward0</text></g>
<g id="n108"><rect class="g" x="1378" y="509.5" width="30" height="7"/><text x="1393" y="514.2">MulBackward0</text></g>
<g id="n109"><rect class="g" x="141" y="531.5" width="32" height="7"/><text x="157" y="536.2">AccumulateGrad</text></g>
<g id="n110"><rect class="g" x="183" y="531.5" width="45" height="7"/><text x="205.5" y="536.2">ConvolutionBackward0</text></g>
<g id="n111"><rect class="g" x="233" y="531.5" width="31" height="7"/><text x="248.5" y="536.2">AccumulateGrad</text></g>
<g id="p53"><rect class="b" x="270" y="530" width="136" height="10"/><text x="338" y="534.1">model.layer_0.0.0.list_of_bottleneck.7.start_layer.start_layer.0.weight<tspan x="338" dy="3.6">(16)</tspan></text></g>
<g id="p54"><rect class="b" x="411" y="530" width="130" height="10"/><text x="476" y="534.1">model.layer_0.0.0.list_of_bottleneck.7.start_layer.start_layer.0.bias<tspan x="476" dy="3.6">(16)</tspan></text></g>
<g id="n112"><rect class="g" x="603" y="531.5" width="33" height="7"/><text x="619.5" y="536.2">AccumulateGrad</text></g>
<g id="p55"><rect class="b" x="685" y="530" width="150" height="10"/><text x="760" y="534.1">model.layer_0.0.0.list_of_bottleneck.8.start_layer.start_layer.1.conv_layer.bias<tspan x="760" dy="3.6">(16)</tspan></text></g>
<g id="p56"><rect class="b" x="841" y="530" width="153" height="10"/><text x="917.5" y="534.1">model.layer_0.0.0.list_of_bottleneck.8.start_layer.start_layer.1.conv_layer.weight<tspan x="917.5" dy="3.6">(16, 1, 3, 3)</tspan></text></g>
<g id="n113"><rect class="g" x="1133" y="531.5" width="30" height="7"/><text x="1148" y="536.2">AddBackward0</text></g>
<g id="p57"><rect class="b" x="1221" y="530" width="150" height="10"/><text x="1296" y="534.1">model.layer_0.0.0.list_of_bottleneck.9.start_layer.start_layer.1.conv_layer.bias<tspan x="1296" dy="3.6">(16)</tspan></text></g>
<g id="n114"><rect class="g" x="1377" y="531.5" width="30" height="7"/><text x="1392" y="536.2">AddBackward0</text></g>
<g id="p58"><rect class="b" x="1412" y="530" width="91.5" height="10"/><text class="s2" x="1457.75" y="534.1">model.layer_0.0.0.list_of_bottleneck.9.start_layer.start_layer.1.conv_layer.weight<tspan x="1457.75" dy="3.6">(16, 1, 3, 3)</tspan></text></g>
<g id="p59"><rect class="b" x="136" y="552" width="84" height="10"/><text x="178" y="556.1">model.layer_0.0.0.list_of_bottleneck.7.alphas<tspan x="178" dy="3.6">(5)</tspan></text></g>
<g id="n115"><rect class="g" x="228" y="553.5" width="44" height="7"/><text x="250" y="558.2">ConvolutionBackward0</text></g>
<g id="n116"><rect class="g" x="324" y="553.5" width="32" height="7"/><text x="340" y="558.2">AccumulateGrad</text></g>
<g id="n117"><rect class="g" x="393" y="553.5" width="34" height="7"/><text x="410" y="558.2">AccumulateGrad</text></g>
<g id="p60"><rect class="b" x="477" y="552" width="84" height="10"/><text x="519" y="556.1">model.layer_0.0.0.list_of_bottleneck.9.alphas<tspan x="519" dy="3.6">(5)</tspan></text></g>
<g id="n118"><rect class="g" x="587" y="553.5" width="35" height="7"/><text x="604.5" y="558.2">SelectBackward0</text></g>
<g id="n119"><rect class="g" x="629" y="553.5" width="36" height="7"/><text x="647" y="558.2">SelectBackward0</text></g>
<g id="n120"><rect class="g" x="743" y="553.5" width="34" height="7"/><text x="760" y="558.2">AccumulateGrad</text></g>
<g id="n121"><rect class="g" x="783" y="553.5" width="33" height="7"/><text x="799.5" y="558.2">AccumulateGrad</text></g>
<g id="n122"><rect class="g" x="822" y="553.5" width="32" height="7"/><text x="838" y="558.2">ReluBackward0</text></g>
<g id="p61"><rect class="b" x="860" y="552" width="164" height="10"/><text x="942" y="556.1">model.layer_0.0.0.list_of_bottleneck.8.start_layer.start_layer.1.pointwise_layer.weight<tspan x="942" dy="3.6">(16, 16, 1, 1)</tspan></text></g>
<g id="p62"><rect class="b" x="1030" y="552" width="160" height="10"/><text x="1110" y="556.1">model.layer_0.0.0.list_of_bottleneck.8.start_layer.start_layer.1.pointwise_layer.bias<tspan x="1110" dy="3.6">(16)</tspan></text></g>
<g id="p63"><rect class="b" x="1221" y="552" width="86" height="10"/><text x="1264" y="556.1">model.layer_0.0.0.list_of_bottleneck.10.alphas<tspan x="1264" dy="3.6">(5)</tspan></text></g>
<g id="n123"><rect class="g" x="1312" y="553.5" width="35" height="7"/><text x="1329.5" y="558.2">AccumulateGrad</text></g>
<g id="n124"><rect class="g" x="1352" y="553.5" width="35" height="7"/><text x="1369.5" y="558.2">ReluBackward0</text></g>
<g id="n125"><rect class="g" x="1390" y="553.5" width="34" height="7"/><text x="1407" y="558.2">AccumulateGrad</text></g>
<g id="p64"><rect class="b" x="1430" y="552" width="73.5" height="10"/><text class="s2" x="1466.75" y="556.1">model.layer_0.0.0.list_of_bottleneck.9.start_layer.start_layer.0.weight<tspan x="1466.75" dy="3.6">(16)</tspan></text></g>
<g id="n126"><rect class="g" x="183" y="575.5" width="34" height="7"/><text x="200" y="580.2">AccumulateGrad</text></g>
<g id="n127"><rect class="g" x="313" y="575.5" width="47" height="7"/><text x="336.5" y="580.2">CudnnBatchNormBackward0</text></g>
<g id="n128"><rect class="g" x="513" y="575.5" width="34" height="7"/><text x="530" y="580.2">AccumulateGrad</text></g>
<g id="n129"><rect class="g" x="585" y="575.5" width="35" height="7"/><text x="602.5" y="580.2">SigmoidBackward0</text></g>
<g id="n130"><rect class="g" x="630" y="575.5" width="36" height="7"/><text x="648" y="580.2">SigmoidBackward0</text></g>
<g id="p65"><rect class="b" x="685" y="574" width="132" height="10"/><text x="751" y="578.1">model.layer_0.0.0.list_of_bottleneck.8.start_layer.start_layer.0.weight<tspan x="751" dy="3.6">(16)</tspan></text></g>
<g id="p66"><rect class="b" x="823" y="574" width="138" height="10"/><text x="892" y="578.1">model.layer_0.0.0.list_of_bottleneck.8.start_layer.start_layer.0.bias<tspan x="892" dy="3.6">(16)</tspan></text></g>
<g id="n131"><rect class="g" x="957" y="575.5" width="45" height="7"/><text x="979.5" y="580.2">ConvolutionBackward0</text></g>
<g id="n132"><rect class="g" x="1008" y="575.5" width="35" height="7"/><text x="1025.5" y="580.2">AccumulateGrad</text></g>
<g id="n133"><rect class="g" x="1070" y="575.5" width="34" height="7"/><text x="1087" y="580.2">AccumulateGrad</text></g>
<g id="n134"><rect class="g" x="1257" y="575.5" width="34" height="7"/><text x="1274" y="580.2">AccumulateGrad</text></g>
<g id="p67"><rect class="b" x="1296" y="574" width="128" height="10"/><text x="1360" y="578.1">model.layer_0.0.0.list_of_bottleneck.9.start_layer.start_layer.0.bias<tspan x="1360" dy="3.6">(16)</tspan></text></g>
<g id="n135"><rect class="g" x="1430" y="575.5" width="46" height="7"/><text x="1453" y="580.2">ConvolutionBackward0</text></g>
<g id="n136"><rect class="g" x="121" y="595.5" width="35" height="7"/><text x="138.5" y="600.2">SelectBackward0</text></g>
<g id="n137"><rect class="g" x="166" y="595.5" width="34" height="7"/><text x="183" y="600.2">SelectBackward0</text></g>
<g id="n138"><rect class="g" x="204" y="595.5" width="34" height="7"/><text x="221" y="600.2">SelectBackward0</text></g>
<g id="n139"><rect class="g" x="246" y="595.5" width="36" height="7"/><text x="264" y="600.2">SelectBackward0</text></g>
<g id="n140"><rect class="g" x="287" y="595.5" width="35" height="7"/><text x="304.5" y="600.2">SelectBackward0</text></g>
<g id="n141"><rect class="g" x="483" y="595.5" width="34" height="7"/><text x="500" y="600.2">SelectBackward0</text></g>
<g id="n142"><rect class="g" x="523" y="595.5" width="36" height="7"/><text x="541" y="600.2">SelectBackward0</text></g>
<g id="n143"><rect class="g" x="580" y="595.5" width="36" height="7"/><text x="598" y="600.2">SelectBackward0</text></g>
<g id="n144"><rect class="g" x="622" y="595.5" width="29" height="7"/><text x="636.5" y="600.2">MulBackward0</text></g>
<g id="n145"><rect class="g" x="659" y="595.5" width="30" height="7"/><text x="674" y="600.2">MulBackward0</text></g>
<g id="n146"><rect class="g" x="781" y="595.5" width="33" height="7"/><text x="797.5" y="600.2">AccumulateGrad</text></g>
<g id="n147"><rect class="g" x="849" y="595.5" width="34" height="7"/><text x="866" y="600.2">AccumulateGrad</text></g>
<g id="n148"><rect class="g" x="979" y="595.5" width="46" height="7"/><text x="1002" y="600.2">ConvolutionBackward0</text></g>
<g id="n149"><rect class="g" x="1223" y="595.5" width="35" height="7"/><text x="1240.5" y="600.2">SelectBackward0</text></g>
<g id="n150"><rect class="g" x="1266" y="595.5" width="36" height="7"/><text x="1284" y="600.2">SelectBackward0</text></g>
<g id="n151"><rect class="g" x="1308" y="595.5" width="36" height="7"/><text x="1326" y="600.2">SelectBackward0</text></g>
<g id="n152"><rect class="g" x="1352" y="595.5" width="35" height="7"/><text x="1369.5" y="600.2">SelectBackward0</text></g>
<g id="n153"><rect class="g" x="1422" y="595.5" width="34" height="7"/><text x="1439" y="600.2">AccumulateGrad</text></g>
<g id="n154"><rect class="g" x="119" y="616.5" width="38" height="7"/><text x="138" y="621.2">SigmoidBackward0</text></g>
<g id="n155"><rect class="g" x="168" y="616.5" width="38" height="7"/><text x="187" y="621.2">SigmoidBackward0</text></g>
<g id="n156"><rect class="g" x="214" y="616.5" width="38" height="7"/><text x="233" y="621.2">SigmoidBackward0</text></g>
<g id="n157"><rect class="g" x="483" y="616.5" width="34" height="7"/><text x="500" y="621.2">SigmoidBackward0</text></g>
<g id="n158"><rect class="g" x="523" y="616.5" width="36" height="7"/><text x="541" y="621.2">SigmoidBackward0</text></g>
<g id="n159"><rect class="g" x="580" y="616.5" width="37" height="7"/><text x="598.5" y="621.2">SigmoidBackward0</text></g>
<g id="n160"><rect class="g" x="660" y="616.5" width="29" height="7"/><text x="674.5" y="621.2">AddBackward0</text></g>
<g id="n161"><rect class="g" x="818" y="616.5" width="52" height="7"/><text x="844" y="621.2">CudnnBatchNormBackward0</text></g>
<g id="p68"><rect class="b" x="877" y="615" width="151" height="10"/><text x="952.5" y="619.1">model.layer_0.0.0.list_of_bottleneck.10.start_layer.start_layer.1.conv_layer.weight<tspan x="952.5" dy="3.6">(16, 1, 3, 3)</tspan></text></g>
<g id="p69"><rect class="b" x="1033" y="615" width="157" height="10"/><text x="1111.5" y="619.1">model.layer_0.0.0.list_of_bottleneck.10.start_layer.start_layer.1.conv_layer.bias<tspan x="1111.5" dy="3.6">(16)</tspan></text></g>
<g id="n162"><rect class="g" x="1223" y="616.5" width="35" height="7"/><text x="1240.5" y="621.2">SigmoidBackward0</text></g>
<g id="n163"><rect class="g" x="1266" y="616.5" width="36" height="7"/><text x="1284" y="621.2">SigmoidBackward0</text></g>
<g id="n164"><rect class="g" x="1308" y="616.5" width="36" height="7"/><text x="1326" y="621.2">SigmoidBackward0</text></g>
<g id="n165"><rect class="g" x="1352" y="616.5" width="35" height="7"/><text x="1369.5" y="621.2">SigmoidBackward0</text></g>
<g id="n166"><rect class="g" x="123" y="637.5" width="30" height="7"/><text x="138" y="642.2">MulBackward0</text></g>
<g id="n167"><rect class="g" x="182" y="637.5" width="30" height="7"/><text x="197" y="642.2">MulBackward0</text></g>
<g id="n168"><rect class="g" x="218" y="637.5" width="30" height="7"/><text x="233" y="642.2">MulBackward0</text></g>
<g id="n169"><rect class="g" x="487" y="637.5" width="30" height="7"/><text x="502" y="642.2">MulBackward0</text></g>
<g id="n170"><rect class="g" x="548" y="637.5" width="30" height="7"/><text x="563" y="642.2">MulBackward0</text></g>
<g id="n171"><rect class="g" x="583" y="637.5" width="32" height="7"/><text x="599" y="642.2">MulBackward0</text></g>
<g id="p70"><rect class="b" x="620" y="636" width="167" height="10"/><text x="703.5" y="640.1">model.layer_0.0.0.list_of_bottleneck.10.start_layer.start_layer.1.pointwise_layer.weight<tspan x="703.5" dy="3.6">(16, 16, 1, 1)</tspan></text></g>
<g id="p71"><rect class="b" x="791" y="636" width="162" height="10"/><text x="872" y="640.1">model.layer_0.0.0.list_of_bottleneck.10.start_layer.start_layer.1.pointwise_layer.bias<tspan x="872" dy="3.6">(16)</tspan></text></g>
<g id="n172"><rect class="g" x="958" y="637.5" width="32" height="7"/><text x="974" y="642.2">AccumulateGrad</text></g>
<g id="n173"><rect class="g" x="996" y="637.5" width="34" height="7"/><text x="1013" y="642.2">AccumulateGrad</text></g>
<g id="n174"><rect class="g" x="1065" y="637.5" width="33" height="7"/><text x="1081.5" y="642.2">AccumulateGrad</text></g>
<g id="n175"><rect class="g" x="1225" y="637.5" width="30" height="7"/><text x="1240" y="642.2">MulBackward0</text></g>
<g id="n176"><rect class="g" x="1260" y="637.5" width="30" height="7"/><text x="1275" y="642.2">MulBackward0</text></g>
<g id="n177"><rect class="g" x="1296" y="637.5" width="30" height="7"/><text x="1311" y="642.2">MulBackward0</text></g>
<g id="n178"><rect class="g" x="1356" y="637.5" width="30" height="7"/><text x="1371" y="642.2">MulBackward0</text></g>
<g id="n179"><rect class="g" x="208" y="659.5" width="30" height="7"/><text x="223" y="664.2">AddBackward0</text></g>
<g id="n180"><rect class="g" x="583" y="659.5" width="30" height="7"/><text x="598" y="664.2">AddBackward0</text></g>
<g id="n181"><rect class="g" x="762" y="659.5" width="34" height="7"/><text x="779" y="664.2">AccumulateGrad</text></g>
<g id="n182"><rect class="g" x="868" y="659.5" width="33" height="7"/><text x="884.5" y="664.2">AccumulateGrad</text></g>
<g id="n183"><rect class="g" x="920" y="659.5" width="45" height="7"/><text x="942.5" y="664.2">ConvolutionBackward0</text></g>
<g id="p72"><rect class="b" x="972" y="658" width="133" height="10"/><text x="1038.5" y="662.1">model.layer_0.0.0.list_of_bottleneck.10.start_layer.start_layer.0.weight<tspan x="1038.5" dy="3.6">(16)</tspan></text></g>
<g id="p73"><rect class="b" x="1112" y="658" width="128" height="10"/><text x="1176" y="662.1">model.layer_0.0.0.list_of_bottleneck.10.start_layer.start_layer.0.bias<tspan x="1176" dy="3.6">(16)</tspan></text></g>
<g id="n184"><rect class="g" x="1260" y="659.5" width="30" height="7"/><text x="1275" y="664.2">AddBackward0</text></g>
<g id="n185"><rect class="g" x="208" y="681.5" width="30" height="7"/><text x="223" y="686.2">AddBackward0</text></g>
<g id="n186"><rect class="g" x="244" y="681.5" width="38" height="7"/><text x="263" y="686.2">SigmoidBackward0</text></g>
<g id="p74"><rect class="b" x="450" y="680" width="152" height="10"/><text x="526" y="684.1">model.layer_0.0.0.list_of_bottleneck.11.start_layer.start_layer.1.conv_layer.weight<tspan x="526" dy="3.6">(16, 1, 3, 3)</tspan></text></g>
<g id="n187"><rect class="g" x="609" y="681.5" width="30" height="7"/><text x="624" y="686.2">AddBackward0</text></g>
<g id="p75"><rect class="b" x="673" y="680" width="155" height="10"/><text x="750.5" y="684.1">model.layer_0.0.0.list_of_bottleneck.11.start_layer.start_layer.1.conv_layer.bias<tspan x="750.5" dy="3.6">(16)</tspan></text></g>
<g id="n188"><rect class="g" x="885" y="681.5" width="45" height="7"/><text x="907.5" y="686.2">ConvolutionBackward0</text></g>
<g id="n189"><rect class="g" x="1022" y="681.5" width="34" height="7"/><text x="1039" y="686.2">AccumulateGrad</text></g>
<g id="n190"><rect class="g" x="1111" y="681.5" width="33" height="7"/><text x="1127.5" y="686.2">AccumulateGrad</text></g>
<g id="n191"><rect class="g" x="1236" y="681.5" width="30" height="7"/><text x="1251" y="686.2">AddBackward0</text></g>
<g id="n192"><rect class="g" x="273" y="703.5" width="35" height="7"/><text x="290.5" y="708.2">SigmoidBackward0</text></g>
<g id="p76"><rect class="b" x="318" y="702" width="164" height="10"/><text x="400" y="706.1">model.layer_0.0.0.list_of_bottleneck.11.start_layer.start_layer.1.pointwise_layer.weight<tspan x="400" dy="3.6">(16, 16, 1, 1)</tspan></text></g>
<g id="p77"><rect class="b" x="487" y="702" width="163" height="10"/><text x="568.5" y="706.1">model.layer_0.0.0.list_of_bottleneck.11.start_layer.start_layer.1.pointwise_layer.bias<tspan x="568.5" dy="3.6">(16)</tspan></text></g>
<g id="n193"><rect class="g" x="656" y="703.5" width="34" height="7"/><text x="673" y="708.2">AccumulateGrad</text></g>
<g id="n194"><rect class="g" x="695" y="703.5" width="32" height="7"/><text x="711" y="708.2">ReluBackward0</text></g>
<g id="n195"><rect class="g" x="734" y="703.5" width="33" height="7"/><text x="750.5" y="708.2">AccumulateGrad</text></g>
<g id="n196"><rect class="g" x="1012" y="703.5" width="54" height="7"/><text x="1039" y="708.2">CudnnBatchNormBackward0</text></g>
<g id="n197"><rect class="g" x="1236" y="703.5" width="30" height="7"/><text x="1251" y="708.2">AddBackward0</text></g>
<g id="p78"><rect class="b" x="1271" y="702" width="152" height="10"/><text x="1347" y="706.1">model.layer_0.0.0.list_of_bottleneck.12.start_layer.start_layer.1.conv_layer.bias<tspan x="1347" dy="3.6">(16)</tspan></text></g>
<g id="p79"><rect class="b" x="1433" y="702" width="70.5" height="10"/><text class="s3" x="1468.25" y="706.1">model.layer_0.0.0.list_of_bottleneck.12.start_layer.start_layer.1.conv_layer.weight<tspan x="1468.25" dy="3.6">(16, 1, 3, 3)</tspan></text></g>
<g id="n198"><rect class="g" x="278" y="725.5" width="28" height="7"/><text x="292" y="730.2">MulBackward0</text></g>
<g id="p80"><rect class="b" x="376" y="724" width="132" height="10"/><text x="442" y="728.1">model.layer_0.0.0.list_of_bottleneck.11.start_layer.start_layer.0.weight<tspan x="442" dy="3.6">(16)</tspan></text></g>
<g id="n199"><rect class="g" x="513" y="725.5" width="34" height="7"/><text x="530" y="730.2">AccumulateGrad</text></g>
<g id="n200"><rect class="g" x="552" y="725.5" width="33" height="7"/><text x="568.5" y="730.2">AccumulateGrad</text></g>
<g id="n201"><rect class="g" x="650" y="725.5" width="45" height="7"/><text x="672.5" y="730.2">ConvolutionBackward0</text></g>
<g id="p81"><rect class="b" x="702" y="724" width="133" height="10"/><text x="768.5" y="728.1">model.layer_0.0.0.list_of_bottleneck.11.start_layer.start_layer.0.bias<tspan x="768.5" dy="3.6">(16)</tspan></text></g>
<g id="p82"><rect class="b" x="960" y="724" width="165" height="10"/><text x="1042.5" y="728.1">model.layer_0.0.0.list_of_bottleneck.12.start_layer.start_layer.1.pointwise_layer.weight<tspan x="1042.5" dy="3.6">(16, 16, 1, 1)</tspan></text></g>
<g id="p83"><rect class="b" x="1132" y="724" width="165" height="10"/><text x="1214.5" y="728.1">model.layer_0.0.0.list_of_bottleneck.12.start_layer.start_layer.1.pointwise_layer.bias<tspan x="1214.5" dy="3.6">(16)</tspan></text></g>
<g id="n202"><rect class="g" x="1299" y="725.5" width="32" height="7"/><text x="1315" y="730.2">ReluBackward0</text></g>
<g id="n203"><rect class="g" x="1337" y="725.5" width="33" height="7"/><text x="1353.5" y="730.2">AccumulateGrad</text></g>
<g id="n204"><rect class="g" x="1431" y="725.5" width="34" height="7"/><text x="1448" y="730.2">AccumulateGrad</text></g>
<g id="n205"><rect class="g" x="278" y="747.5" width="28" height="7"/><text x="292" y="752.2">AddBackward0</text></g>
<g id="n206"><rect class="g" x="455" y="747.5" width="33" height="7"/><text x="471.5" y="752.2">AccumulateGrad</text></g>
<g id="n207"><rect class="g" x="527" y="747.5" width="45" height="7"/><text x="549.5" y="752.2">ConvolutionBackward0</text></g>
<g id="n208"><rect class="g" x="675" y="747.5" width="33" height="7"/><text x="691.5" y="752.2">AccumulateGrad</text></g>
<g id="p84"><rect class="b" x="1097" y="746" width="129" height="10"/><text x="1161.5" y="750.1">model.layer_0.0.0.list_of_bottleneck.12.start_layer.start_layer.0.bias<tspan x="1161.5" dy="3.6">(16)</tspan></text></g>
<g id="n209"><rect class="g" x="1232" y="747.5" width="33" height="7"/><text x="1248.5" y="752.2">AccumulateGrad</text></g>
<g id="n210"><rect class="g" x="1271" y="747.5" width="34" height="7"/><text x="1288" y="752.2">AccumulateGrad</text></g>
<g id="n211"><rect class="g" x="1311" y="747.5" width="45" height="7"/><text x="1333.5" y="752.2">ConvolutionBackward0</text></g>
<g id="p85"><rect class="b" x="1363" y="746" width="134" height="10"/><text x="1430" y="750.1">model.layer_0.0.0.list_of_bottleneck.12.start_layer.start_layer.0.weight<tspan x="1430" dy="3.6">(16)</tspan></text></g>
<g id="n212"><rect class="g" x="476" y="769.5" width="51" height="7"/><text x="501.5" y="774.2">CudnnBatchNormBackward0</text></g>
<g id="n213"><rect class="g" x="1185" y="769.5" width="33" height="7"/><text x="1201.5" y="774.2">AccumulateGrad</text></g>
<g id="n214"><rect class="g" x="1287" y="769.5" width="46" height="7"/><text x="1310" y="774.2">ConvolutionBackward0</text></g>
<g id="n215"><rect class="g" x="1370" y="769.5" width="32" height="7"/><text x="1386" y="774.2">AccumulateGrad</text></g>
<g id="n216"><rect class="g" x="389" y="791.5" width="30" height="7"/><text x="404" y="796.2">MulBackward0</text></g>
<g id="n217"><rect class="g" x="1340" y="791.5" width="50" height="7"/><text x="1365" y="796.2">CudnnBatchNormBackward0</text></g>
<g id="n218"><rect class="g" x="389" y="813.5" width="30" height="7"/><text x="404" y="818.2">AddBackward0</text></g>
<g id="p86"><rect class="b" x="890" y="812" width="154" height="10"/><text x="967" y="816.1">model.layer_0.0.0.list_of_bottleneck.13.start_layer.start_layer.1.conv_layer.weight<tspan x="967" dy="3.6">(16, 1, 3, 3)</tspan></text></g>
<g id="p87"><rect class="b" x="1052" y="812" width="150" height="10"/><text x="1127" y="816.1">model.layer_0.0.0.list_of_bottleneck.13.start_layer.start_layer.1.conv_layer.bias<tspan x="1127" dy="3.6">(16)</tspan></text></g>
<g id="n219"><rect class="g" x="1479" y="813.5" width="24.5" height="7"/><text class="s1" x="1491.25" y="818.2">ReluBackward0</text></g>
<g id="n220"><rect class="g" x="818" y="835.5" width="31" height="7"/><text x="833.5" y="840.2">ReluBackward0</text></g>
<g id="n221"><rect class="g" x="981" y="835.5" width="32" height="7"/><text x="997" y="840.2">AccumulateGrad</text></g>
<g id="n222"><rect class="g" x="1080" y="835.5" width="33" height="7"/><text x="1096.5" y="840.2">AccumulateGrad</text></g>
<g id="p88"><rect class="b" x="1119" y="834" width="166" height="10"/><text x="1202" y="838.1">model.layer_0.0.0.list_of_bottleneck.13.start_layer.start_layer.1.pointwise_layer.weight<tspan x="1202" dy="3.6">(16, 16, 1, 1)</tspan></text></g>
<g id="p89"><rect class="b" x="1292" y="834" width="162" height="10"/><text x="1373" y="838.1">model.layer_0.0.0.list_of_bottleneck.13.start_layer.start_layer.1.pointwise_layer.bias<tspan x="1373" dy="3.6">(16)</tspan></text></g>
<text class="wm" x="1268" y="838">CSDN @盼小辉</text>
</svg>
